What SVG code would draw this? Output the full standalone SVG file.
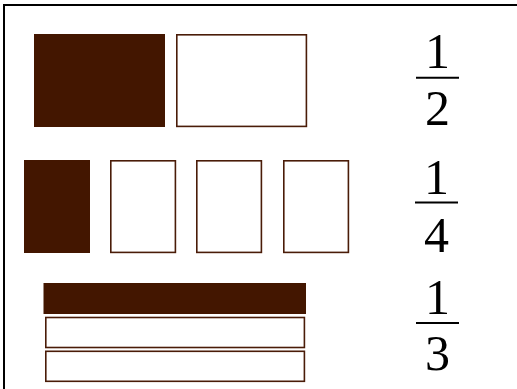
<svg xmlns="http://www.w3.org/2000/svg" width="517" height="389" viewBox="0 0 517 389">
<style>
.fill{fill:#431600;}
.box{fill:#ffffff;stroke:#4a1c08;stroke-width:1.6;}
.frame{fill:none;stroke:#000000;stroke-width:2;}
.num{font-family:"Liberation Serif","Times New Roman",serif;font-size:50px;fill:#000000;text-anchor:middle;}
.bar{stroke:#000000;stroke-width:2;}
</style>
<rect width="517" height="389" fill="#ffffff"/>
<rect class="frame" x="4" y="5" width="530" height="400"/>
<g id="half">
  <rect class="fill" x="34" y="34" width="131" height="93"/>
  <rect class="box" x="176.8" y="34.8" width="129.6" height="91.6"/>
</g>
<g id="quarter">
  <rect class="fill" x="24" y="160" width="66" height="93"/>
  <rect class="box" x="110.8" y="160.8" width="64.6" height="91.6"/>
  <rect class="box" x="196.8" y="160.8" width="64.6" height="91.6"/>
  <rect class="box" x="283.8" y="160.8" width="64.6" height="91.6"/>
</g>
<g id="third">
  <rect class="fill" x="43.5" y="283" width="262.5" height="31"/>
  <rect class="box" x="45.8" y="317.5" width="258.6" height="30"/>
  <rect class="box" x="45.8" y="351.3" width="258.6" height="30"/>
</g>
<g id="frac-half">
  <text class="num" x="437.5" y="68">1</text>
  <line class="bar" x1="416" y1="77.7" x2="459" y2="77.7"/>
  <text class="num" x="437.5" y="125">2</text>
</g>
<g id="frac-quarter">
  <text class="num" x="436.5" y="194">1</text>
  <line class="bar" x1="415" y1="202.5" x2="458" y2="202.5"/>
  <text class="num" x="436.5" y="252">4</text>
</g>
<g id="frac-third">
  <text class="num" x="437.5" y="314">1</text>
  <line class="bar" x1="416" y1="323" x2="459" y2="323"/>
  <text class="num" x="437.5" y="370">3</text>
</g>
</svg>
